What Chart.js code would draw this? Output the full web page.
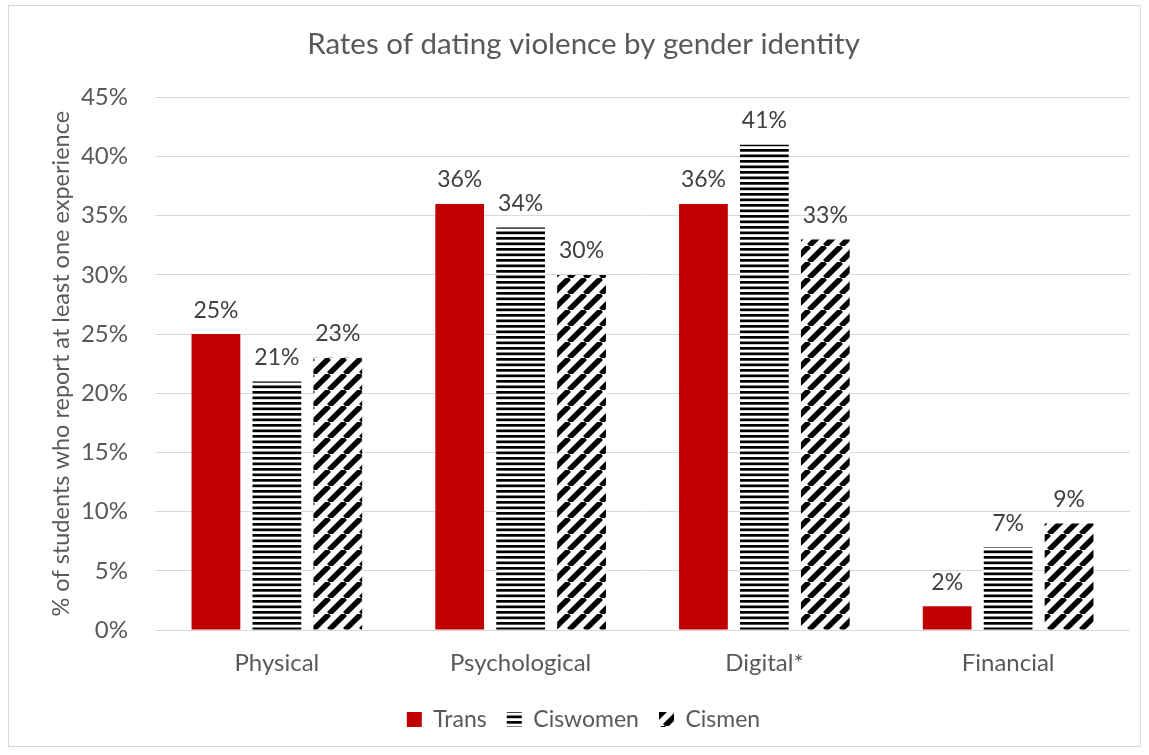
<!DOCTYPE html>
<html lang="en">
  <head>
    <meta charset="UTF-8" />
    <title>Rates of dating violence by gender identity</title>
    <script src="https://cdn.jsdelivr.net/npm/chart.js"></script>
    <style>
      body { margin: 0; background: #fff; }
      #frame { position: absolute; left: 8px; top: 5px; width: 1131px; height: 740px; border: 1px solid #d9d9d9; }
    </style>
  </head>
  <body>
    <div id="frame"><canvas id="chart" width="1131" height="740"></canvas></div>
    <script>
      const categories = ["Physical", "Psychological", "Digital*", "Financial"];
      const trans = [25, 36, 36, 2];
      const ciswomen = [21, 34, 41, 7];
      const cismen = [23, 30, 33, 9];
      const textColor = "#595959";
      const font = "Lato";

      // horizontal stripes
      function stripesH() {
        const c = document.createElement("canvas");
        c.width = 4; c.height = 11;
        const g = c.getContext("2d");
        g.fillStyle = "#fff"; g.fillRect(0, 0, 4, 11);
        g.fillStyle = "#000";
        g.fillRect(0, 0, 4, 2.7);
        g.fillRect(0, 5.5, 4, 2.7);
        return g.createPattern(c, "repeat");
      }

      // wide diagonal stripes, going up to the right
      function stripesD() {
        const s = 16;
        const c = document.createElement("canvas");
        c.width = s; c.height = s;
        const g = c.getContext("2d");
        g.fillStyle = "#fff"; g.fillRect(0, 0, s, s);
        g.strokeStyle = "#000"; g.lineWidth = 5.5;
        for (const k of [-s, 0, s]) {
          g.beginPath(); g.moveTo(k, s); g.lineTo(k + s, 0); g.stroke();
        }
        return g.createPattern(c, "repeat");
      }

      const valueLabels = {
        id: "valueLabels",
        afterDatasetsDraw(chart) {
          const ctx = chart.ctx;
          ctx.save();
          ctx.font = "23px " + font;
          ctx.fillStyle = "#404040";
          ctx.textAlign = "center";
          ctx.textBaseline = "middle";
          chart.data.datasets.forEach((ds, i) => {
            chart.getDatasetMeta(i).data.forEach((bar, j) => {
              ctx.fillText(ds.data[j] + "%", bar.x, bar.y - 24);
            });
          });
          ctx.restore();
        }
      };

      new Chart(document.getElementById("chart"), {
        type: "bar",
        data: {
          labels: categories,
          datasets: [
            { label: "Trans", data: trans, backgroundColor: "#c00000" },
            { label: "Ciswomen", data: ciswomen, backgroundColor: stripesH() },
            { label: "Cismen", data: cismen, backgroundColor: stripesD() }
          ]
        },
        options: {
          responsive: false,
          animation: false,
          categoryPercentage: 0.75,
          barPercentage: 0.8,
          borderWidth: 0,
          layout: { padding: { left: 28, right: 10, top: 0, bottom: 5 } },
          plugins: {
            title: {
              display: true,
              text: "Rates of dating violence by gender identity",
              color: textColor,
              font: { family: font, size: 29.5, weight: "normal" },
              padding: { top: 21, bottom: 35 }
            },
            legend: {
              position: "bottom",
              labels: {
                color: textColor,
                font: { family: font, size: 23 },
                boxWidth: 15,
                boxHeight: 15,
                padding: 20
              }
            },
            tooltip: { enabled: false }
          },
          scales: {
            x: {
              afterFit(s) { s.height = 58; },
              grid: { display: false },
              border: { display: false },
              ticks: { color: textColor, font: { family: font, size: 24 }, padding: 11 }
            },
            y: {
              min: 0,
              max: 45,
              afterFit(s) { s.width = 118; },
              grid: { color: "#d9d9d9", drawTicks: false },
              border: { display: false },
              ticks: {
                stepSize: 5,
                color: textColor,
                font: { family: font, size: 24 },
                padding: 27,
                callback: v => v + "%"
              },
              title: {
                display: true,
                text: "% of students who report at least one experience",
                color: textColor,
                font: { family: font, size: 23.5 },
                padding: { top: 10, bottom: 0 }
              }
            }
          }
        },
        plugins: [valueLabels]
      });
    </script>
  </body>
</html>
